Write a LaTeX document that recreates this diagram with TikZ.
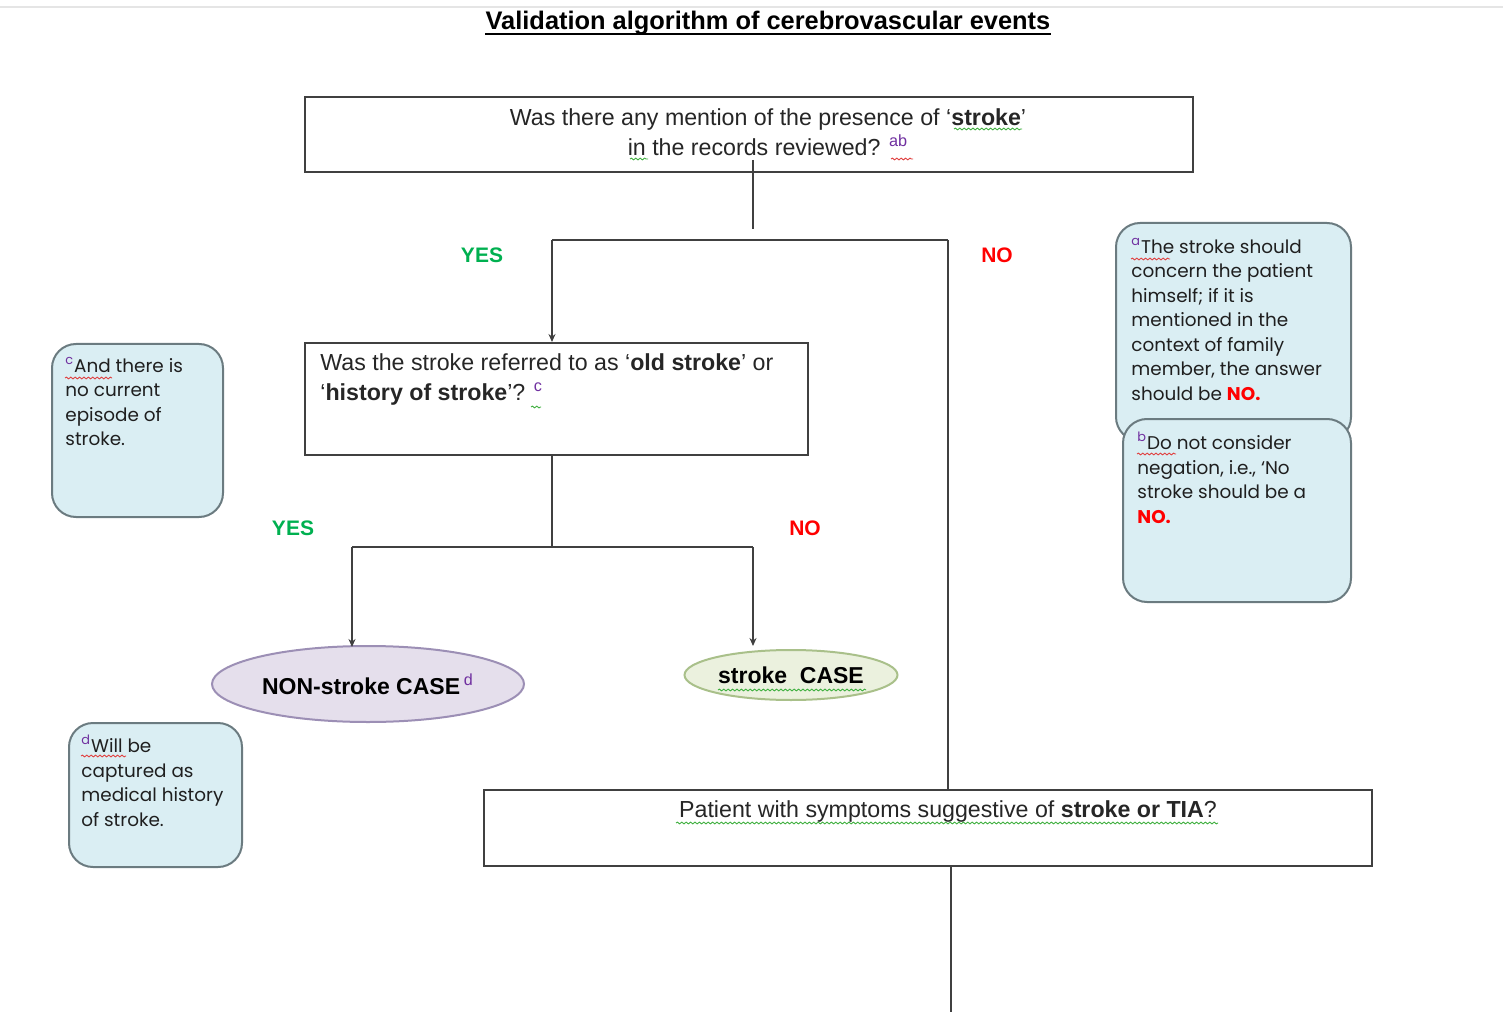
\documentclass[tikz,border=0pt]{standalone}
\usepackage{fontspec}
\setmainfont{Liberation Sans}
\newfontfamily\qfont{Liberation Sans}
\newfontfamily\notefont{Poppins}
\usetikzlibrary{arrows.meta,decorations.pathmorphing,shapes.geometric}

\definecolor{lineg}{HTML}{404040}
\definecolor{yesg}{HTML}{00B050}
\definecolor{nored}{HTML}{FF0000}
\definecolor{supp}{HTML}{7030A0}
\definecolor{notefill}{HTML}{DAEEF3}
\definecolor{noteline}{HTML}{6B7B80}
\definecolor{lav}{HTML}{E5DFEC}
\definecolor{lavline}{HTML}{9C8FB5}
\definecolor{pale}{HTML}{EBF1DE}
\definecolor{paleline}{HTML}{A9C08A}
\definecolor{squigred}{HTML}{E04040}
\definecolor{squiggreen}{HTML}{40B040}

% bold words inside the question text
\newcommand\bw[1]{{\bfseries #1}}
\newcommand\fn[1]{\textsuperscript{\color{supp}#1}}

\tikzset{
  qbox/.style={draw=lineg, line width=1pt, fill=white, rectangle, inner sep=0pt},
  qtext/.style={inner sep=0pt, font=\fontsize{11.6}{15}\selectfont\qfont, text=black!85},
  note/.style={draw=noteline, line width=1pt, fill=notefill, rectangle, rounded corners=12pt, inner sep=0pt},
  notetext/.style={inner sep=0pt, align=left, font=\fontsize{9.2}{12.25}\selectfont\notefont, text=black!88},
  flow/.style={draw=lineg, line width=1pt},
  arr/.style={flow, -{Stealth[length=4pt,width=3.5pt]}},
  yes/.style={inner sep=0pt, text=yesg, font=\fontsize{10.5}{12}\selectfont\bfseries},
  no/.style={inner sep=0pt, text=nored, font=\fontsize{10.5}{12}\selectfont\bfseries},
  squig/.style={decorate, decoration={snake, amplitude=0.45pt, segment length=2.2pt}, line width=0.45pt},
}

\begin{document}
\begin{tikzpicture}[x=0.5pt,y=-0.5pt]
\useasboundingbox (0,0) rectangle (1503,1026);

% faint page rule at the top
\draw[black!10, line width=0.8pt] (0,7) -- (1503,7);

% title
\node[inner sep=0pt, font=\fontsize{12.7}{14}\selectfont\bfseries] (title) at (768,23) {Validation algorithm of cerebrovascular events};
\draw[line width=1pt] ([yshift=-2.2pt]title.base west) -- ([yshift=-2.2pt]title.base east);

% question boxes
\node[qbox, minimum width=444pt, minimum height=37.5pt] (b1) at (749,134.5) {};
\node[qtext, align=center] (b1t) at (768,132)
  {Was there any mention of the presence of ‘\bw{stroke}’\\in the records reviewed? \fn{ab}};

\node[qbox, minimum width=251.5pt, minimum height=56pt] (b2) at (556.5,399) {};
\node[qtext, align=left, anchor=north west] (b2t) at (320,353)
  {Was the stroke referred to as ‘\bw{old stroke}’ or\\‘\bw{history of stroke}’? \fn{c}};

\node[qbox, minimum width=444pt, minimum height=38pt] (b3) at (928,828) {};
\node[qtext, align=center] (b3t) at (948,811)
  {Patient with symptoms suggestive of \bw{stroke or TIA}?};

% outcome ellipses
\node[ellipse, draw=lavline, line width=1pt, fill=lav, minimum width=156pt, minimum height=38pt, inner sep=0pt,
      font=\fontsize{11.5}{12}\selectfont\bfseries] (e1) at (368,684) {NON-stroke CASE\,\fn{\normalfont d}};
\node[ellipse, draw=paleline, line width=1pt, fill=pale, minimum width=106.5pt, minimum height=25pt, inner sep=0pt,
      font=\fontsize{11.5}{12}\selectfont\bfseries] (e2) at (791,675) {stroke\ \ CASE};

% branch points
\coordinate (s1) at (753,160);
\coordinate (s1e) at (753,229);
\coordinate (j1l) at (552,240);
\coordinate (j1r) at (948,240);
\coordinate (j2) at (552,547);
\coordinate (j2l) at (352,547);
\coordinate (j2r) at (753,547);
\coordinate (t1) at (352,647);
\coordinate (t2) at (753,646);
\coordinate (endb) at (951,1012);

% connectors
\draw[flow] (s1) -- (s1e);
\draw[flow] (j1l) -- (j1r);
\draw[arr] (j1l) -- (b2.north -| j1l);
\draw[flow] (j1r) -- (b3.north -| j1r);
\draw[flow] (b2.south -| j2) -- (j2);
\draw[flow] (j2l) -- (j2r);
\draw[arr] (j2l) -- (t1);
\draw[arr] (j2r) -- (t2);
\draw[flow] (b3.south -| endb) -- (endb);

% branch labels
\node[yes] (y1) at (482,255) {YES};
\node[no]  (n1) at (997,255) {NO};
\node[yes] (y2) at (293,528) {YES};
\node[no]  (n2) at (805,528) {NO};

% footnote boxes
\node[note, minimum width=117.5pt, minimum height=109pt, anchor=north west] (na) at (1115,222) {};
\node[notetext, anchor=north west] (nat) at (1131,238)
  {\fn{a}The stroke should\\concern the patient\\himself; if it is\\mentioned in the\\context of family\\member, the answer\\should be \textcolor{nored}{\bfseries NO.}};

\node[note, minimum width=114pt, minimum height=91.5pt, anchor=north west] (nb) at (1122,418) {};
\node[notetext, anchor=north west] (nbt) at (1137,432)
  {\fn{b}Do not consider\\negation, i.e., ‘No\\stroke should be a\\\textcolor{nored}{\bfseries NO.}};

\node[note, minimum width=85.5pt, minimum height=86.5pt, anchor=north west] (nc) at (51,343) {};
\node[notetext, anchor=north west] (nct) at (65,357)
  {\fn{c}And there is\\no current\\episode of\\stroke.};

\node[note, minimum width=86.5pt, minimum height=72pt, anchor=north west] (nd) at (68,722) {};
\node[notetext, anchor=north west] (ndt) at (81,735)
  {\fn{d}Will be\\captured as\\medical history\\of stroke.};

% proofing marks under words
\draw[squig, squiggreen] (954,129) -- (1022,129);
\draw[squig, squiggreen] (630,159) -- (648,159);
\draw[squig, squigred] (891,159) -- (913,159);
\draw[squig, squiggreen] (531,407) -- (541,407);
\draw[squig, squiggreen] (718,690) -- (866,690);
\draw[squig, squiggreen] (676,823) -- (1218,823);
\draw[squig, squigred] (1131,259) -- (1170,259);
\draw[squig, squigred] (1137,454) -- (1176,454);
\draw[squig, squigred] (65,378) -- (112,378);
\draw[squig, squigred] (81,756) -- (126,756);
\end{tikzpicture}
\end{document}
